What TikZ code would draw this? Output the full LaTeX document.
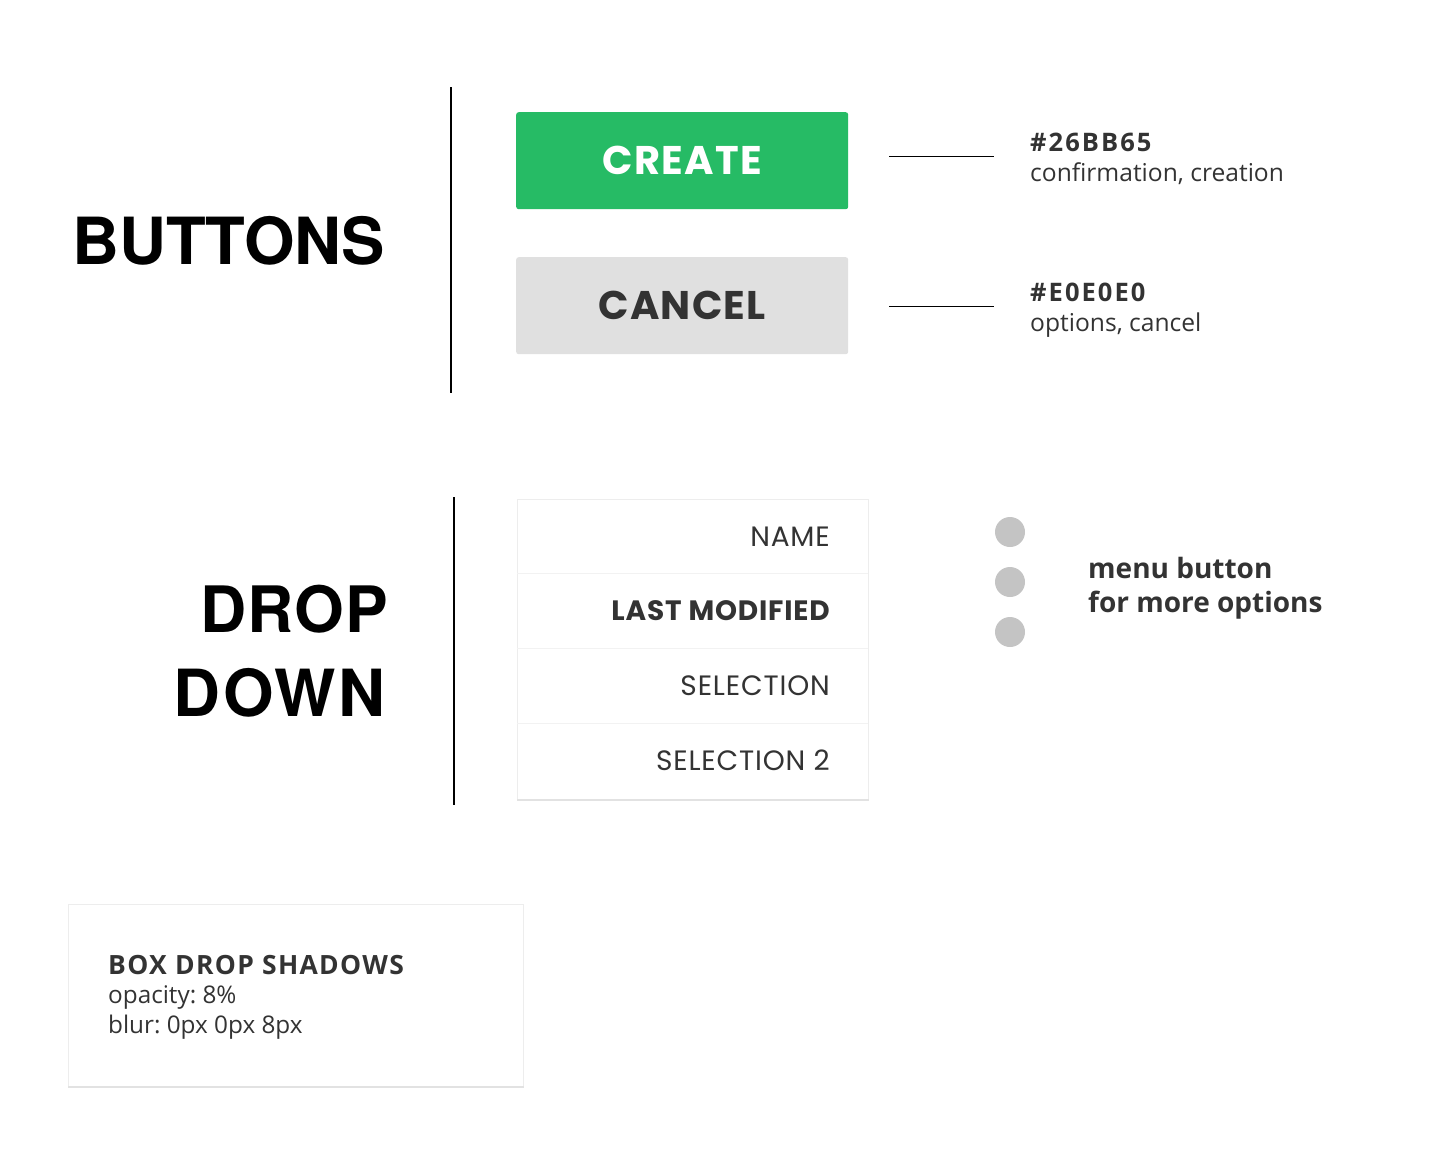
\documentclass[tikz,border=0pt]{standalone}
\usepackage{fontspec}
\setmainfont{Open Sans}
\newfontfamily\pop{Poppins}
\newfontfamily\popsp{Poppins}[LetterSpace=3]
\newfontfamily\hero{TeX Gyre Heros}
\newfontfamily\herosp{TeX Gyre Heros}[LetterSpace=4]
\newfontfamily\herospb{TeX Gyre Heros}[LetterSpace=1.5]
\newfontfamily\opensp{Open Sans}[LetterSpace=5]
\newfontfamily\openhex{Open Sans}[LetterSpace=8]
\frenchspacing
\definecolor{cgreen}{HTML}{26BB65}
\definecolor{cgray}{HTML}{E0E0E0}
\definecolor{cdark}{HTML}{333333}
\definecolor{cdot}{HTML}{C4C4C4}
\definecolor{csep}{HTML}{F2F2F2}
\definecolor{cedge}{HTML}{EDEDED}
\definecolor{cedgeb}{HTML}{E2E2E2}
\tikzset{
  heading/.style={inner sep=0pt, text=black, font=\hero\bfseries\fontsize{65}{70}\selectfont},
  headingdrop/.style={inner sep=0pt, text=black, font=\herospb\bfseries\fontsize{64}{70}\selectfont},
  headingsp/.style={inner sep=0pt, text=black, font=\herosp\bfseries\fontsize{65}{70}\selectfont},
  rule/.style={draw=black, line width=1.2pt},
  btn/.style={inner sep=0pt, minimum width=332pt, minimum height=97pt, rounded corners=2.5pt, text depth=0pt, font=\popsp\bfseries\fontsize{40}{42}\selectfont},
  card/.style={fill=white, draw=cedge, line width=1pt, inner sep=0pt},
  hexlbl/.style={inner sep=0pt, text=cdark, font=\openhex\bfseries\fontsize{25.5}{28}\selectfont},
  desc/.style={inner sep=0pt, text=cdark, font=\fontsize{24.6}{28}\selectfont},
  rowtxt/.style={inner sep=0pt, text=cdark, font=\popsp\fontsize{28}{30}\selectfont},
  rowtxtb/.style={inner sep=0pt, text=cdark, font=\popsp\bfseries\fontsize{28}{30}\selectfont},
  dot/.style={circle, fill=cdot, minimum size=30pt, inner sep=0pt},
  menutxt/.style={inner sep=0pt, text=cdark, font=\bfseries\fontsize{28}{30}\selectfont},
  boxtitle/.style={inner sep=0pt, text=cdark, font=\opensp\bfseries\fontsize{26.5}{28}\selectfont},
  boxtxt/.style={inner sep=0pt, text=cdark, font=\fontsize{24.3}{28}\selectfont},
}
\begin{document}
\begin{tikzpicture}[x=1pt,y=-1pt]
\useasboundingbox[fill=white] (0,0) rectangle (1440,1149);

% ---- BUTTONS section
\node[heading, anchor=base west] (hbuttons) at (72,264) {BUTTONS};
\coordinate (v1a) at (451,87);
\coordinate (v1b) at (451,393);
\draw[rule] (v1a) -- (v1b);

\node[btn, fill=cgreen, text=white, anchor=north west] (create) at (516,112) {CREATE};
\node[btn, fill=cgray, text=cdark, anchor=north west] (cancel) at (516,257) {CANCEL};

\coordinate (l1a) at (889,156);
\coordinate (l1b) at (994,156);
\coordinate (l2a) at (889,306);
\coordinate (l2b) at (994,306);
\draw[rule, line width=1pt] (l1a) -- (l1b);
\draw[rule, line width=1pt] (l2a) -- (l2b);

\node[hexlbl, anchor=base west] (hex1) at (1030,151) {\#26BB65};
\node[desc, anchor=base west] (desc1) at (1030,181) {confirmation, creation};
\node[hexlbl, anchor=base west] (hex2) at (1030,301) {\#E0E0E0};
\node[desc, anchor=base west] (desc2) at (1030,331) {options, cancel};

% ---- DROP DOWN section
\node[headingdrop, anchor=base east] (hdrop) at (388,632) {DROP};
\node[headingsp, anchor=base east] (hdown) at (386,716) {DOWN};
\coordinate (v2a) at (454,497);
\coordinate (v2b) at (454,805);
\draw[rule] (v2a) -- (v2b);

\node[card, minimum width=351pt, minimum height=300pt, anchor=north west] (menu) at (517,499) {};
\draw[cedgeb, line width=1.5pt] (menu.south west) -- (menu.south east);
\coordinate (s1a) at (517,573); \coordinate (s1b) at (868,573);
\coordinate (s2a) at (517,648); \coordinate (s2b) at (868,648);
\coordinate (s3a) at (517,723); \coordinate (s3b) at (868,723);
\draw[csep, line width=1pt] (s1a) -- (s1b);
\draw[csep, line width=1pt] (s2a) -- (s2b);
\draw[csep, line width=1pt] (s3a) -- (s3b);

\node[rowtxt, anchor=base east] (r1) at (830,546) {NAME};
\node[rowtxtb, anchor=base east] (r2) at (830,620) {LAST MODIFIED};
\node[rowtxt, anchor=base east] (r3) at (830,695) {SELECTION};
\node[rowtxt, anchor=base east] (r4) at (830,770) {SELECTION 2};

\node[dot] (d1) at (1010,532) {};
\node[dot] (d2) at (1010,582) {};
\node[dot] (d3) at (1010,632) {};
\node[menutxt, anchor=base west] (m1) at (1088,578) {menu button};
\node[menutxt, anchor=base west] (m2) at (1088,612) {for more options};

% ---- BOX DROP SHADOWS
\node[card, minimum width=455pt, minimum height=182pt, anchor=north west] (shbox) at (68,904) {};
\draw[cedgeb, line width=1.5pt] (shbox.south west) -- (shbox.south east);
\node[boxtitle, anchor=base west] (bt) at (108,974) {BOX DROP SHADOWS};
\node[boxtxt, anchor=base west] (bt1) at (108,1003) {opacity: 8\%};
\node[boxtxt, anchor=base west] (bt2) at (108,1033) {blur: 0px 0px 8px};
\end{tikzpicture}
\end{document}
